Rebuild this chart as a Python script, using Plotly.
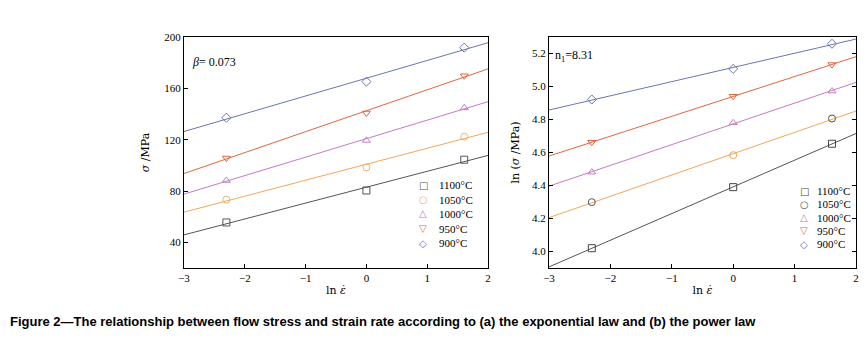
import numpy as np
import plotly.graph_objects as go

# ---- data ----
ln_rate = [-2.303, 0.0, 1.609]
temps = ["1100°C", "1050°C", "1000°C", "950°C", "900°C"]
stress_1100 = [55.5, 80.4, 104.4]
stress_1050 = [73.2, 98.4, 122.3]
stress_1000 = [88.2, 119.4, 144.8]
stress_950 = [105.7, 140.8, 169.8]
stress_900 = [137.1, 165.2, 191.7]
lnstress_1100 = [4.020, 4.390, 4.653]
lnstress_1050 = [4.299, 4.584, 4.806]
lnstress_1000 = [4.481, 4.780, 4.972]
lnstress_950 = [4.662, 4.941, 5.133]
lnstress_900 = [4.921, 5.107, 5.259]
x_range = [-3, 2]

left_sets = [stress_1100, stress_1050, stress_1000, stress_950, stress_900]
right_sets = [lnstress_1100, lnstress_1050, lnstress_1000, lnstress_950, lnstress_900]

line_colors = ["#555555", "#f2a65a", "#c77ac9", "#e2663f", "#6a76b4"]
marker_colors_left = [["#555555"] * 3, ["#f2b070"] * 3, ["#c77ac9"] * 3, ["#e2663f"] * 3, ["#6a76b4"] * 3]
marker_colors_right = [["#444444"] * 3, ["#555555", "#f2a65a", "#555555"], ["#c77ac9"] * 3, ["#e2663f"] * 3, ["#6a76b4"] * 3]
legend_colors_left = ["#555555", "#f2b070", "#c77ac9", "#e2663f", "#6a76b4"]
legend_colors_right = ["#444444", "#555555", "#c77ac9", "#e2663f", "#6a76b4"]
symbols = ["square-open", "circle-open", "triangle-up-open", "triangle-down-open", "diamond-open"]
legend_glyphs = ["□", "○", "△", "▽", "◇"]

serif = "Liberation Serif, Times New Roman, serif"
fig = go.Figure()

xf = np.array(x_range, dtype=float)
for i, t in enumerate(temps):
    k, b = np.polyfit(ln_rate, left_sets[i], 1)
    fig.add_trace(go.Scatter(x=xf, y=k * xf + b, mode="lines", line=dict(color=line_colors[i], width=1),
                             showlegend=False, xaxis="x", yaxis="y", hoverinfo="skip"))
    fig.add_trace(go.Scatter(x=ln_rate, y=left_sets[i], mode="markers", name=t, showlegend=False,
                             marker=dict(symbol=symbols[i], size=7, color=marker_colors_left[i], line=dict(width=1)),
                             xaxis="x", yaxis="y"))
    k2, b2 = np.polyfit(ln_rate, right_sets[i], 1)
    fig.add_trace(go.Scatter(x=xf, y=k2 * xf + b2, mode="lines", line=dict(color=line_colors[i], width=1),
                             showlegend=False, xaxis="x2", yaxis="y2", hoverinfo="skip"))
    fig.add_trace(go.Scatter(x=ln_rate, y=right_sets[i], mode="markers", name=t, showlegend=False,
                             marker=dict(symbol=symbols[i], size=7, color=marker_colors_right[i], line=dict(width=1)),
                             xaxis="x2", yaxis="y2"))

axis_common = dict(showgrid=False, zeroline=False, showline=True, linecolor="black", linewidth=1.3,
                   ticks="inside", ticklen=4, tickwidth=1.2, tickcolor="black", automargin=False,
                   tickfont=dict(family=serif, size=11, color="black"))
title_font = dict(family="DejaVu Serif, serif", size=11, color="black")

# page body has an 8px margin: figure is sized to fit the window, positions are in window pixels
PAGE_OFF = 8
W, H = 867 - PAGE_OFF, 348 - PAGE_OFF


def px(x):
    return (x - PAGE_OFF) / W


def py(y):
    return 1 - (y - PAGE_OFF) / H


ydom = [py(268), py(37)]

annotations = [
    dict(text="<i>β</i>= 0.073", x=px(190), y=py(62), xref="paper", yref="paper",
         xanchor="left", yanchor="middle", showarrow=False, font=dict(family=serif, size=12, color="black")),
    dict(text="n<sub>1</sub>=8.31", x=px(553), y=py(56), xref="paper", yref="paper",
         xanchor="left", yanchor="middle", showarrow=False, font=dict(family=serif, size=12, color="black")),
    dict(text="<b>Figure 2—The relationship between flow stress and strain rate according to (a) the exponential law and (b) the power law</b>",
         x=px(8), y=py(321), xref="paper", yref="paper", xanchor="left", yanchor="middle",
         showarrow=False, font=dict(family="Liberation Sans Narrow, Arial Narrow, Arial, sans-serif", size=13, color="black")),
]

legend_blocks = [
    dict(sym_x=423, txt_x=437, y0=185, dy=14.5, colors=legend_colors_left),
    dict(sym_x=804, txt_x=815, y0=191, dy=13.3, colors=legend_colors_right),
]
for blk in legend_blocks:
    for i, t in enumerate(temps):
        yy = py(blk["y0"] + i * blk["dy"])
        annotations.append(dict(text=legend_glyphs[i], x=px(blk["sym_x"]), y=yy, xref="paper", yref="paper",
                                xanchor="center", yanchor="middle", showarrow=False,
                                font=dict(family="DejaVu Sans, sans-serif", size=10, color=blk["colors"][i])))
        annotations.append(dict(text=t, x=px(blk["txt_x"]), y=yy, xref="paper", yref="paper",
                                xanchor="left", yanchor="middle", showarrow=False,
                                font=dict(family=serif, size=11, color="black")))

fig.update_layout(
    template="none",
    width=W, height=H, autosize=False, margin=dict(l=0, r=0, t=0, b=0, pad=0),
    paper_bgcolor="white", plot_bgcolor="white", showlegend=False,
    xaxis=dict(domain=[px(184), px(488)], range=x_range, dtick=1, anchor="y", mirror=True,
               title=dict(text="ln <i>ε̇</i>", font=title_font, standoff=2),
               **axis_common),
    yaxis=dict(domain=ydom, range=[20, 200], tickvals=[40, 80, 120, 160, 200], anchor="x", mirror=True,
               title=dict(text="<i>σ</i> /MPa", font=title_font, standoff=12),
               **axis_common),
    xaxis2=dict(domain=[px(549), px(856)], range=x_range, dtick=1, anchor="y2", mirror=True,
                title=dict(text="ln <i>ε̇</i>", font=title_font, standoff=2),
                **axis_common),
    yaxis2=dict(domain=ydom, range=[3.9, 5.3], tickvals=[4.0, 4.2, 4.4, 4.6, 4.8, 5.0, 5.2], tickformat=".1f",
                anchor="x2", mirror="ticks",
                title=dict(text="ln (<i>σ</i> /MPa)", font=title_font, standoff=10),
                **axis_common),
    annotations=annotations,
)

fig.write_html("out.html")
